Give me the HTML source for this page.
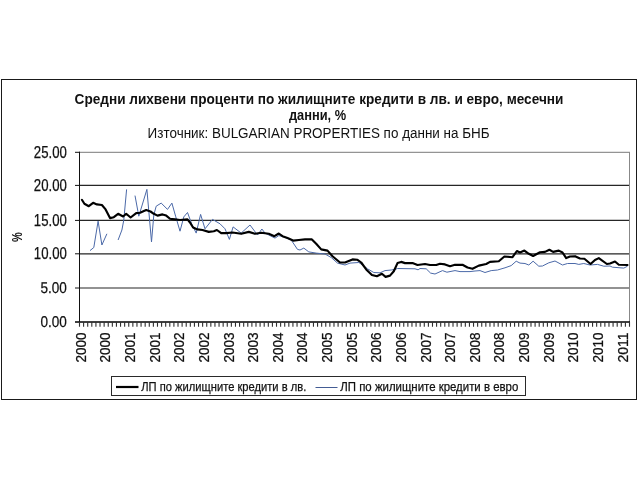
<!DOCTYPE html>
<html lang="bg"><head><meta charset="utf-8"><title>Средни лихвени проценти</title>
<style>html,body{margin:0;padding:0;background:#fff;width:640px;height:480px;overflow:hidden}</style></head>
<body>
<svg width="640" height="480" viewBox="0 0 640 480" style="position:absolute;left:0;top:0;filter:blur(0.35px)">
<rect x="0" y="0" width="640" height="480" fill="#fff"/>
<rect x="1.5" y="79.5" width="635" height="320" fill="none" stroke="#1a1a1a" stroke-width="1"/>
<path d="M79 152.3H630" stroke="#7a7a7a" stroke-width="1" fill="none"/>
<path d="M79 185.4H630M79 220.4H630M79 253.8H630M79 288.0H630" stroke="#262626" stroke-width="1.2" fill="none"/>
<path d="M629.5 152.3V322.0" stroke="#888" stroke-width="1" fill="none"/>
<path d="M75 322.0H630" stroke="#000" stroke-width="1.35" fill="none"/>
<path d="M79.5 151.8V322.5M75 152.3H80M75 185.4H80M75 220.4H80M75 253.8H80M75 288.0H80" stroke="#111" stroke-width="1" fill="none"/>
<path d="M79.50 322.0v4.7M83.60 322.0v4.7M87.71 322.0v4.7M91.81 322.0v4.7M95.92 322.0v4.7M100.02 322.0v4.7M104.13 322.0v4.7M108.23 322.0v4.7M112.34 322.0v4.7M116.44 322.0v4.7M120.54 322.0v4.7M124.65 322.0v4.7M128.75 322.0v4.7M132.86 322.0v4.7M136.96 322.0v4.7M141.07 322.0v4.7M145.17 322.0v4.7M149.28 322.0v4.7M153.38 322.0v4.7M157.49 322.0v4.7M161.59 322.0v4.7M165.69 322.0v4.7M169.80 322.0v4.7M173.90 322.0v4.7M178.01 322.0v4.7M182.11 322.0v4.7M186.22 322.0v4.7M190.32 322.0v4.7M194.43 322.0v4.7M198.53 322.0v4.7M202.63 322.0v4.7M206.74 322.0v4.7M210.84 322.0v4.7M214.95 322.0v4.7M219.05 322.0v4.7M223.16 322.0v4.7M227.26 322.0v4.7M231.37 322.0v4.7M235.47 322.0v4.7M239.57 322.0v4.7M243.68 322.0v4.7M247.78 322.0v4.7M251.89 322.0v4.7M255.99 322.0v4.7M260.10 322.0v4.7M264.20 322.0v4.7M268.31 322.0v4.7M272.41 322.0v4.7M276.51 322.0v4.7M280.62 322.0v4.7M284.72 322.0v4.7M288.83 322.0v4.7M292.93 322.0v4.7M297.04 322.0v4.7M301.14 322.0v4.7M305.25 322.0v4.7M309.35 322.0v4.7M313.46 322.0v4.7M317.56 322.0v4.7M321.66 322.0v4.7M325.77 322.0v4.7M329.87 322.0v4.7M333.98 322.0v4.7M338.08 322.0v4.7M342.19 322.0v4.7M346.29 322.0v4.7M350.40 322.0v4.7M354.50 322.0v4.7M358.60 322.0v4.7M362.71 322.0v4.7M366.81 322.0v4.7M370.92 322.0v4.7M375.02 322.0v4.7M379.13 322.0v4.7M383.23 322.0v4.7M387.34 322.0v4.7M391.44 322.0v4.7M395.54 322.0v4.7M399.65 322.0v4.7M403.75 322.0v4.7M407.86 322.0v4.7M411.96 322.0v4.7M416.07 322.0v4.7M420.17 322.0v4.7M424.28 322.0v4.7M428.38 322.0v4.7M432.49 322.0v4.7M436.59 322.0v4.7M440.69 322.0v4.7M444.80 322.0v4.7M448.90 322.0v4.7M453.01 322.0v4.7M457.11 322.0v4.7M461.22 322.0v4.7M465.32 322.0v4.7M469.43 322.0v4.7M473.53 322.0v4.7M477.63 322.0v4.7M481.74 322.0v4.7M485.84 322.0v4.7M489.95 322.0v4.7M494.05 322.0v4.7M498.16 322.0v4.7M502.26 322.0v4.7M506.37 322.0v4.7M510.47 322.0v4.7M514.57 322.0v4.7M518.68 322.0v4.7M522.78 322.0v4.7M526.89 322.0v4.7M530.99 322.0v4.7M535.10 322.0v4.7M539.20 322.0v4.7M543.31 322.0v4.7M547.41 322.0v4.7M551.51 322.0v4.7M555.62 322.0v4.7M559.72 322.0v4.7M563.83 322.0v4.7M567.93 322.0v4.7M572.04 322.0v4.7M576.14 322.0v4.7M580.25 322.0v4.7M584.35 322.0v4.7M588.46 322.0v4.7M592.56 322.0v4.7M596.66 322.0v4.7M600.77 322.0v4.7M604.87 322.0v4.7M608.98 322.0v4.7M613.08 322.0v4.7M617.19 322.0v4.7M621.29 322.0v4.7M625.40 322.0v4.7M629.50 322.0v4.7" stroke="#303030" stroke-width="1.1" fill="none"/>
<polyline points="90.0,250.6 93.8,247.5 98.1,221.2 101.9,245.0 106.9,233.8" fill="none" stroke="#4b69a8" stroke-width="1.0" stroke-linejoin="round"/>
<polyline points="118.1,240.0 121.9,230.0 123.8,220.0 126.6,189.4" fill="none" stroke="#4b69a8" stroke-width="1.0" stroke-linejoin="round"/>
<polyline points="135.0,195.6 138.8,216.2 146.9,189.4 151.5,241.9 153.8,215.0 156.2,206.2 161.2,203.1 167.5,209.4 171.9,203.1 175.6,216.2 180.0,231.2 183.8,216.9 187.5,212.5 191.9,224.4 196.2,233.1 200.6,214.4 205.0,228.8 212.5,219.4 220.0,223.8 225.0,228.8 229.4,239.4 233.1,226.9 241.2,233.1 250.0,225.0 257.5,235.0 261.9,229.0 265.0,233.1 275.0,238.1 278.8,235.6 283.8,236.9 291.2,240.0 297.5,249.4 300.0,250.0 303.8,248.1 308.8,251.9 316.2,253.1 325.0,254.0 331.2,257.5 337.5,263.1 345.0,265.0 350.0,263.1 358.8,262.5 362.5,265.0 367.5,268.8 373.8,272.5 380.0,272.8 385.0,270.6 391.2,270.0 395.0,269.4 397.5,268.5 415.0,268.8 418.1,269.8 420.0,268.5 426.2,268.8 430.6,273.1 435.0,274.0 442.5,270.6 446.9,272.2 455.0,270.6 460.0,271.6 470.0,271.6 475.0,271.0 480.0,270.6 485.0,272.5 491.2,270.6 497.5,270.0 505.0,267.8 511.2,265.6 516.2,261.2 520.0,263.1 525.0,263.5 528.8,265.0 533.1,261.2 538.8,266.2 542.5,266.0 548.8,262.8 555.0,261.0 562.5,265.0 567.5,263.5 575.0,263.5 578.8,264.4 583.8,263.5 590.0,265.0 597.5,264.4 603.8,266.2 610.0,266.0 612.5,267.2 623.8,268.1 627.5,266.2" fill="none" stroke="#4b69a8" stroke-width="1.0" stroke-linejoin="round"/>
<polyline points="81.9,199.8 84.4,203.8 88.8,206.2 93.1,202.8 96.9,204.4 101.9,205.0 105.6,209.4 110.0,218.1 113.8,217.2 118.1,213.8 123.1,216.5 126.2,213.8 130.6,217.5 136.2,213.1 140.0,212.8 146.2,210.0 150.5,211.5 153.8,213.8 157.5,215.6 162.5,214.4 166.2,215.6 170.0,218.8 175.0,219.4 180.0,220.0 187.5,219.4 190.0,222.5 193.1,227.5 197.5,229.4 202.5,230.0 208.8,231.9 213.8,231.2 216.9,230.0 221.2,233.1 226.2,233.1 232.5,232.5 241.2,233.8 248.8,231.9 255.0,233.8 261.2,232.8 268.8,233.8 274.4,236.2 278.8,233.5 282.5,236.2 287.5,238.1 293.1,240.6 298.8,240.0 305.0,239.4 311.9,239.4 316.2,243.8 321.2,249.4 327.5,250.6 332.5,256.2 340.0,262.5 345.0,262.5 352.5,259.4 357.5,259.8 361.2,262.5 366.2,269.4 371.9,275.0 376.9,276.2 381.9,273.8 385.6,276.9 390.0,275.6 393.8,271.2 397.5,263.1 401.2,261.9 405.0,263.1 412.5,263.1 417.5,265.0 425.0,264.0 430.0,265.0 436.2,265.0 440.0,263.8 445.0,264.4 450.0,266.2 455.0,264.8 462.5,264.8 467.5,267.5 472.5,268.8 478.8,265.6 486.2,264.0 490.0,261.9 498.8,261.2 504.4,256.5 512.5,257.2 516.9,251.0 520.0,252.5 524.4,250.6 528.8,253.8 533.1,256.0 540.0,252.2 545.0,251.9 549.4,249.8 553.1,251.9 558.8,250.6 562.5,252.5 566.2,258.1 570.0,256.5 575.0,256.2 580.0,258.5 584.4,258.8 590.6,264.0 595.0,260.0 598.8,258.1 606.9,264.0 610.0,263.5 615.0,261.5 618.8,264.8 627.5,265.0" fill="none" stroke="#000" stroke-width="2.15" stroke-linejoin="round" stroke-linecap="round"/>
<rect x="111.5" y="376.5" width="414" height="19" fill="#fff" stroke="#2a2a2a" stroke-width="1"/>
<path d="M116 387H138.5" stroke="#000" stroke-width="2.2" fill="none"/>
<path d="M315.5 387.5H337.5" stroke="#435c94" stroke-width="1.05" fill="none"/>
<text x="141.3" y="390.8" font-family="Liberation Sans, Arial, sans-serif" stroke="#111" stroke-width="0.25" font-size="13" fill="#111" textLength="165" lengthAdjust="spacingAndGlyphs">ЛП по жилищните кредити в лв.</text>
<text x="340.3" y="390.8" font-family="Liberation Sans, Arial, sans-serif" stroke="#111" stroke-width="0.25" font-size="13" fill="#111" textLength="178" lengthAdjust="spacingAndGlyphs">ЛП по жилищните кредити в евро</text>
<text x="74.6" y="103.5" font-family="Liberation Sans, Arial, sans-serif" font-size="14.7" font-weight="bold" fill="#111" textLength="488.8" lengthAdjust="spacingAndGlyphs">Средни лихвени проценти по жилищните кредити в лв. и евро, месечни</text>
<text x="288.9" y="120.3" font-family="Liberation Sans, Arial, sans-serif" font-size="14.7" font-weight="bold" fill="#111" textLength="57.2" lengthAdjust="spacingAndGlyphs">данни, %</text>
<text x="147.6" y="137.7" font-family="Liberation Sans, Arial, sans-serif" font-size="14.7" fill="#111" textLength="342" lengthAdjust="spacingAndGlyphs">Източник: BULGARIAN PROPERTIES по данни на БНБ</text>
<text x="33.80" y="158"  font-family="Liberation Sans, Arial, sans-serif" stroke="#111" stroke-width="0.25" font-size="15.6" fill="#111" textLength="33.00" lengthAdjust="spacingAndGlyphs">25.00</text>
<text x="33.80" y="191"  font-family="Liberation Sans, Arial, sans-serif" stroke="#111" stroke-width="0.25" font-size="15.6" fill="#111" textLength="33.00" lengthAdjust="spacingAndGlyphs">20.00</text>
<text x="33.80" y="226"  font-family="Liberation Sans, Arial, sans-serif" stroke="#111" stroke-width="0.25" font-size="15.6" fill="#111" textLength="33.00" lengthAdjust="spacingAndGlyphs">15.00</text>
<text x="33.80" y="259"  font-family="Liberation Sans, Arial, sans-serif" stroke="#111" stroke-width="0.25" font-size="15.6" fill="#111" textLength="33.00" lengthAdjust="spacingAndGlyphs">10.00</text>
<text x="40.40" y="293" text-rendering="geometricPrecision" font-family="Liberation Sans, Arial, sans-serif" stroke="#111" stroke-width="0.25" font-size="15.6" fill="#111" textLength="26.40" lengthAdjust="spacingAndGlyphs">5.00</text>
<text x="40.40" y="327" text-rendering="geometricPrecision" font-family="Liberation Sans, Arial, sans-serif" stroke="#111" stroke-width="0.25" font-size="15.6" fill="#111" textLength="26.40" lengthAdjust="spacingAndGlyphs">0.00</text>
<text transform="translate(22.2,242.1) rotate(-90)" font-family="Liberation Sans, Arial, sans-serif" font-size="15" font-weight="bold" fill="#111" textLength="9.8" lengthAdjust="spacingAndGlyphs">%</text>
<text transform="translate(85.80,362.6) rotate(-90)" font-family="Liberation Sans, Arial, sans-serif" stroke="#111" stroke-width="0.25" font-size="15" fill="#111" textLength="30.0" lengthAdjust="spacingAndGlyphs">2000</text>
<text transform="translate(110.43,362.6) rotate(-90)" font-family="Liberation Sans, Arial, sans-serif" stroke="#111" stroke-width="0.25" font-size="15" fill="#111" textLength="30.0" lengthAdjust="spacingAndGlyphs">2000</text>
<text transform="translate(135.06,362.6) rotate(-90)" font-family="Liberation Sans, Arial, sans-serif" stroke="#111" stroke-width="0.25" font-size="15" fill="#111" textLength="30.0" lengthAdjust="spacingAndGlyphs">2001</text>
<text transform="translate(159.68,362.6) rotate(-90)" font-family="Liberation Sans, Arial, sans-serif" stroke="#111" stroke-width="0.25" font-size="15" fill="#111" textLength="30.0" lengthAdjust="spacingAndGlyphs">2001</text>
<text transform="translate(184.31,362.6) rotate(-90)" font-family="Liberation Sans, Arial, sans-serif" stroke="#111" stroke-width="0.25" font-size="15" fill="#111" textLength="30.0" lengthAdjust="spacingAndGlyphs">2002</text>
<text transform="translate(208.94,362.6) rotate(-90)" font-family="Liberation Sans, Arial, sans-serif" stroke="#111" stroke-width="0.25" font-size="15" fill="#111" textLength="30.0" lengthAdjust="spacingAndGlyphs">2002</text>
<text transform="translate(233.56,362.6) rotate(-90)" font-family="Liberation Sans, Arial, sans-serif" stroke="#111" stroke-width="0.25" font-size="15" fill="#111" textLength="30.0" lengthAdjust="spacingAndGlyphs">2003</text>
<text transform="translate(258.19,362.6) rotate(-90)" font-family="Liberation Sans, Arial, sans-serif" stroke="#111" stroke-width="0.25" font-size="15" fill="#111" textLength="30.0" lengthAdjust="spacingAndGlyphs">2003</text>
<text transform="translate(282.82,362.6) rotate(-90)" font-family="Liberation Sans, Arial, sans-serif" stroke="#111" stroke-width="0.25" font-size="15" fill="#111" textLength="30.0" lengthAdjust="spacingAndGlyphs">2004</text>
<text transform="translate(307.44,362.6) rotate(-90)" font-family="Liberation Sans, Arial, sans-serif" stroke="#111" stroke-width="0.25" font-size="15" fill="#111" textLength="30.0" lengthAdjust="spacingAndGlyphs">2004</text>
<text transform="translate(332.07,362.6) rotate(-90)" font-family="Liberation Sans, Arial, sans-serif" stroke="#111" stroke-width="0.25" font-size="15" fill="#111" textLength="30.0" lengthAdjust="spacingAndGlyphs">2005</text>
<text transform="translate(356.70,362.6) rotate(-90)" font-family="Liberation Sans, Arial, sans-serif" stroke="#111" stroke-width="0.25" font-size="15" fill="#111" textLength="30.0" lengthAdjust="spacingAndGlyphs">2005</text>
<text transform="translate(381.32,362.6) rotate(-90)" font-family="Liberation Sans, Arial, sans-serif" stroke="#111" stroke-width="0.25" font-size="15" fill="#111" textLength="30.0" lengthAdjust="spacingAndGlyphs">2006</text>
<text transform="translate(405.95,362.6) rotate(-90)" font-family="Liberation Sans, Arial, sans-serif" stroke="#111" stroke-width="0.25" font-size="15" fill="#111" textLength="30.0" lengthAdjust="spacingAndGlyphs">2006</text>
<text transform="translate(430.58,362.6) rotate(-90)" font-family="Liberation Sans, Arial, sans-serif" stroke="#111" stroke-width="0.25" font-size="15" fill="#111" textLength="30.0" lengthAdjust="spacingAndGlyphs">2007</text>
<text transform="translate(455.21,362.6) rotate(-90)" font-family="Liberation Sans, Arial, sans-serif" stroke="#111" stroke-width="0.25" font-size="15" fill="#111" textLength="30.0" lengthAdjust="spacingAndGlyphs">2007</text>
<text transform="translate(479.83,362.6) rotate(-90)" font-family="Liberation Sans, Arial, sans-serif" stroke="#111" stroke-width="0.25" font-size="15" fill="#111" textLength="30.0" lengthAdjust="spacingAndGlyphs">2008</text>
<text transform="translate(504.46,362.6) rotate(-90)" font-family="Liberation Sans, Arial, sans-serif" stroke="#111" stroke-width="0.25" font-size="15" fill="#111" textLength="30.0" lengthAdjust="spacingAndGlyphs">2008</text>
<text transform="translate(529.09,362.6) rotate(-90)" font-family="Liberation Sans, Arial, sans-serif" stroke="#111" stroke-width="0.25" font-size="15" fill="#111" textLength="30.0" lengthAdjust="spacingAndGlyphs">2009</text>
<text transform="translate(553.71,362.6) rotate(-90)" font-family="Liberation Sans, Arial, sans-serif" stroke="#111" stroke-width="0.25" font-size="15" fill="#111" textLength="30.0" lengthAdjust="spacingAndGlyphs">2009</text>
<text transform="translate(578.34,362.6) rotate(-90)" font-family="Liberation Sans, Arial, sans-serif" stroke="#111" stroke-width="0.25" font-size="15" fill="#111" textLength="30.0" lengthAdjust="spacingAndGlyphs">2010</text>
<text transform="translate(602.97,362.6) rotate(-90)" font-family="Liberation Sans, Arial, sans-serif" stroke="#111" stroke-width="0.25" font-size="15" fill="#111" textLength="30.0" lengthAdjust="spacingAndGlyphs">2010</text>
<text transform="translate(627.59,362.6) rotate(-90)" font-family="Liberation Sans, Arial, sans-serif" stroke="#111" stroke-width="0.25" font-size="15" fill="#111" textLength="30.0" lengthAdjust="spacingAndGlyphs">2011</text>
</svg>
</body></html>
